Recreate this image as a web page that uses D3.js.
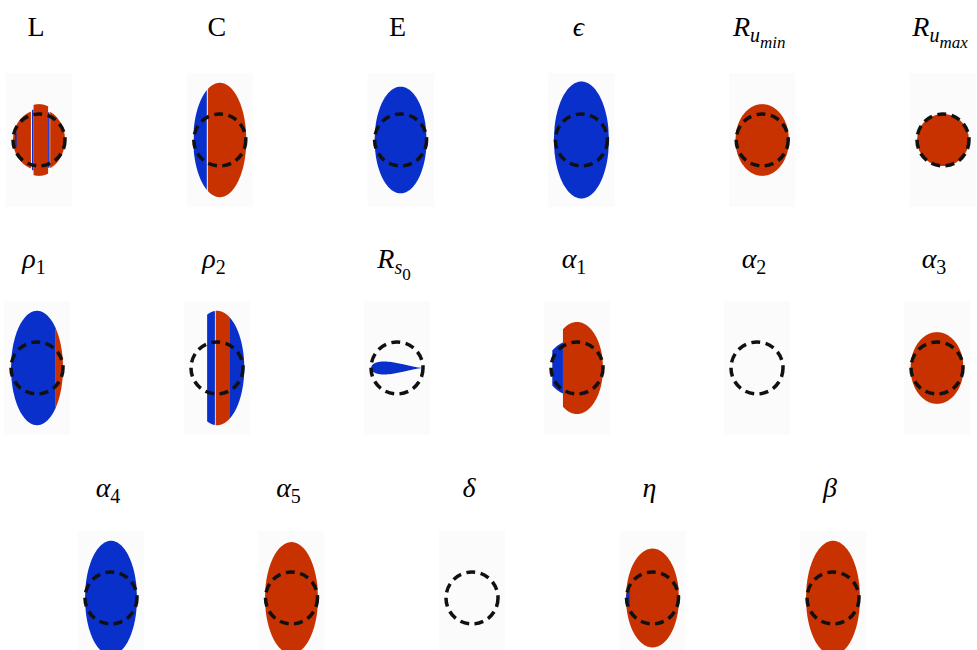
<!DOCTYPE html>
<html>
<head>
<meta charset="utf-8">
<script src="https://cdn.jsdelivr.net/npm/d3@7"></script>
<style>
  body { margin: 0; background: #fff; }
</style>
</head>
<body>
<div id="app"></div>
<script>
// parameter labels, one list per row of panels
let labelsRow1 = ["L", "C", "E", "$\\epsilon$", "$R_{u_{min}}$", "$R_{u_{max}}$"]
let labelsRow2 = ["$\\rho_1$", "$\\rho_2$", "$R_{s_0}$", "$\\alpha_1$", "$\\alpha_2$", "$\\alpha_3$"]
let labelsRow3 = ["$\\alpha_4$", "$\\alpha_5$", "$\\delta$", "$\\eta$", "$\\beta$"]

// response regions, in units of the dashed reference circle:
// [x from, x to, sign (+1 up / -1 down), half width, half height]
let responsesRow1 = [
    [[-1, -0.31, 1, 1, 1.15], [-0.92, -0.86, -1, 1, 0.6], [-0.27, -0.21, -1, 1, 1.2],
     [-0.21, 0.35, 1, 1, 1.38], [0.35, 0.41, -1, 1, 1.15], [0.43, 1, 1, 1, 1.2]],
    [[-1, -0.5, -1, 1.02, 2.2], [-0.46, 1.02, 1, 1.02, 2.2]],
    [[-1, 1, -1, 1.0, 2.05]],
    [[-1.06, 1.06, -1, 1.06, 2.25]],
    [[-1.03, 1.03, 1, 1.03, 1.38]],
    [[-1, 1, 1, 1.0, 1.0]]
]
let responsesRow2 = [
    [[-1, 0.72, -1, 1.0, 2.2], [0.72, 1, 1, 1.0, 2.2]],
    [[-0.38, -0.08, -1, 1.05, 2.2], [-0.05, 0.5, 1, 1.05, 2.2], [0.5, 1.05, -1, 1.05, 2.2]],
    [[-1, 1, -1, 1.0, 0.25]],
    [[-0.54, 1, 1, 1.0, 1.77], [-0.95, -0.54, -1, 1.2, 1.1]],
    [],
    [[-1.02, 1.02, 1, 1.02, 1.38]]
]
let responsesRow3 = [
    [[-1, 1, -1, 1.0, 2.2]],
    [[-1.02, 1.02, 1, 1.02, 2.15]],
    [],
    [[-1.02, 1.02, 1, 1.02, 1.9], [-1.02, -0.88, -1, 1.02, 0.75]],
    [[-1.04, 1.04, 1, 1.04, 2.2]]
]
// parameters whose response is a tapered blob instead of an ellipse
let tapered = ["$R_{s_0}$"]

let width = 977, height = 650
let svg = d3.select("#app").append("svg")
    .attr("width", width)
    .attr("height", height)
    .style("font-family", "'Liberation Serif', 'DejaVu Serif', serif")

let rows = [
    {labels: labelsRow1, resp: responsesRow1, x: [39, 943], y: 140, ty: 36},
    {labels: labelsRow2, resp: responsesRow2, x: [37, 937], y: 368, ty: 268},
    {labels: labelsRow3, resp: responsesRow3, x: [111, 833], y: 598, ty: 497}
]

let unit = d3.scaleLinear().domain([0, 1]).range([0, 26])
let color = d3.scaleOrdinal().domain([-1, 1]).range(["#0a30cc", "#c83200"])

let greek = {epsilon: "ϵ", rho: "ρ", alpha: "α", delta: "δ", eta: "η", beta: "β"}

// tiny tex reader: subscripts only
function parseTex(s) {
    let math = s.startsWith("$")
    if (math) s = s.slice(1, -1)
    s = s.replace(/\\([a-z]+)/g, (m, g) => greek[g] || g)
    let out = []
    function walk(str, level) {
        let i = 0
        while (i < str.length) {
            let c = str[i]
            if (c === "_") {
                i++
                if (str[i] === "{") {
                    let depth = 1, j = i + 1
                    while (depth > 0) {
                        if (str[j] === "{") depth++
                        else if (str[j] === "}") depth--
                        j++
                    }
                    walk(str.slice(i + 1, j - 1), level + 1)
                    i = j
                } else {
                    out.push({t: str[i], level: level + 1})
                    i++
                }
            } else {
                out.push({t: c, level: level})
                i++
            }
        }
    }
    walk(s, 0)
    out.forEach(d => d.italic = math && !/[0-9]/.test(d.t))
    // merge runs
    let merged = []
    out.forEach(d => {
        let last = merged[merged.length - 1]
        if (last && last.level === d.level && last.italic === d.italic) last.t += d.t
        else merged.push({...d})
    })
    return merged
}

let fontSize = [28, 20, 17]
let shift = [0, 6, 12]

function regionPath(seg, taper) {
    let [x0, x1, sign, a, b] = seg
    let lo = Math.max(x0, -a), hi = Math.min(x1, a)
    let us = d3.range(81).map(i => lo + (hi - lo) * i / 80)
    let half = u => {
        let e = Math.sqrt(Math.max(0, 1 - (u / a) ** 2))
        return taper ? b * e * (1 - u / a) / 2 / 0.65 : b * e
    }
    return d3.area()
        .x(u => unit(u))
        .y0(u => unit(-half(u)))
        .y1(u => unit(half(u)))(us)
}

rows.forEach(row => {
    let col = d3.scaleLinear().domain([0, row.labels.length - 1]).range(row.x)

    let panel = svg.append("g").selectAll("g")
        .data(row.labels)
        .enter().append("g")
        .attr("transform", (d, i) => `translate(${col(i)},${row.y})`)

    panel.append("rect")
        .attr("x", -33).attr("y", -67)
        .attr("width", 66).attr("height", 134)
        .attr("fill", "#fbfbfb")

    panel.each(function (lab, i) {
        d3.select(this).selectAll("path.resp")
            .data(row.resp[i])
            .enter().append("path")
            .attr("class", "resp")
            .attr("d", seg => regionPath(seg, tapered.includes(lab)))
            .attr("fill", seg => color(seg[2]))
    })

    panel.append("circle")
        .attr("r", unit(1))
        .attr("fill", "none")
        .attr("stroke", "#111")
        .attr("stroke-width", 3.5)
        .attr("stroke-dasharray", "9,5.5")

    // titles
    let title = svg.append("g").selectAll("text")
        .data(row.labels)
        .enter().append("text")
        .attr("x", (d, i) => col(i) - 3)
        .attr("y", row.ty)
        .attr("text-anchor", "middle")
        .attr("fill", "#000")

    title.each(function (lab) {
        let cur = 0
        d3.select(this).selectAll("tspan")
            .data(parseTex(lab))
            .enter().append("tspan")
            .attr("font-size", d => fontSize[d.level])
            .attr("font-style", d => d.italic ? "italic" : "normal")
            .attr("dy", d => { let dy = shift[d.level] - cur; cur = shift[d.level]; return dy })
            .text(d => d.t)
    })
})
</script>
</body>
</html>
